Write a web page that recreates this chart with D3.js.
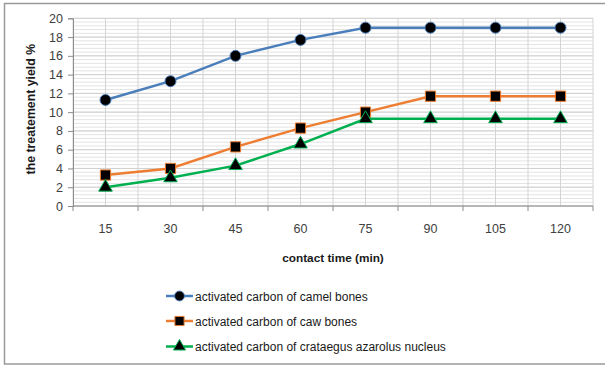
<!DOCTYPE html>
<html>
<head>
<meta charset="utf-8">
<script src="https://cdn.jsdelivr.net/npm/d3@7"></script>
<style>
  html, body { margin: 0; padding: 0; background: #fff; }
  svg { display: block; }
  text { font-family: "Liberation Sans Narrow", "Arial Narrow", "Liberation Sans", sans-serif; }
</style>
</head>
<body>
<svg id="chart" width="605" height="367"></svg>
<script>
// Contact time (min) on the category axis
const times = [15, 30, 45, 60, 75, 90, 105, 120];

// Treatment yield (%) for each adsorbent
const camelBones = [11.3, 13.3, 16.0, 17.7, 19.0, 19.0, 19.0, 19.0];
const cawBones = [3.3, 4.0, 6.3, 8.3, 10.0, 11.7, 11.7, 11.7];
const crataegus = [2.0, 3.0, 4.3, 6.6, 9.3, 9.3, 9.3, 9.3];

const seriesNames = [
  "activated carbon of camel bones",
  "activated carbon of caw bones",
  "activated carbon of crataegus azarolus nucleus"
];
const seriesColors = ["#4a7ebb", "#ed7d31", "#00b050"];
const seriesShapes = [d3.symbolCircle, d3.symbolSquare, d3.symbolTriangle];
const seriesSizes = [95, 105, 80];

const yTicks = [0, 2, 4, 6, 8, 10, 12, 14, 16, 18, 20];

const series = [camelBones, cawBones, crataegus].map((vals, i) => ({
  name: seriesNames[i], color: seriesColors[i], shape: seriesShapes[i], size: seriesSizes[i],
  points: vals.map((v, j) => ({ t: times[j], v }))
}));

const svg = d3.select("#chart");
const plot = { left: 73, right: 593, top: 18.3, bottom: 206 };

// Outer frame
svg.append("rect")
  .attr("x", 4.5).attr("y", 3.5).attr("width", 604).attr("height", 360.5)
  .attr("fill", "#fff").attr("stroke", "#9a9a9a").attr("stroke-width", 1.5);

const x = d3.scaleBand().domain(times).range([plot.left, plot.right]);
const y = d3.scaleLinear().domain([0, 20]).range([plot.bottom, plot.top]);

const grid = svg.append("g");
// Minor horizontal gridlines
grid.selectAll("line.hmin")
  .data(d3.range(0, 20.001, 0.4))
  .join("line")
  .attr("x1", plot.left).attr("x2", plot.right)
  .attr("y1", d => y(d)).attr("y2", d => y(d))
  .attr("stroke", "#e3e3e3").attr("stroke-width", 1);
// Major horizontal gridlines
grid.selectAll("line.hmaj")
  .data(yTicks)
  .join("line")
  .attr("x1", plot.left).attr("x2", plot.right)
  .attr("y1", d => y(d)).attr("y2", d => y(d))
  .attr("stroke", "#d0d0d0").attr("stroke-width", 1);
// Vertical gridlines at category boundaries and centres
const vLines = times.map(t => x(t)).concat([plot.right]).concat(times.map(t => x(t) + x.bandwidth() / 2));
grid.selectAll("line.v")
  .data(vLines)
  .join("line")
  .attr("x1", d => d).attr("x2", d => d)
  .attr("y1", plot.top).attr("y2", plot.bottom)
  .attr("stroke", "#d4d4d4").attr("stroke-width", 1);

// Y axis
const yAxis = svg.append("g")
  .attr("transform", `translate(${plot.left},0)`)
  .call(d3.axisLeft(y).tickValues(yTicks).tickSize(5).tickPadding(5));
yAxis.select(".domain").attr("stroke", "#8c8c8c");
yAxis.selectAll(".tick line").attr("stroke", "#8c8c8c");
yAxis.selectAll(".tick text").attr("fill", "#404040").attr("font-size", 12.5)
  .style("font-family", "'Liberation Sans Narrow', 'Liberation Sans', sans-serif");

// X axis: ticks between categories
const xAxisG = svg.append("g").attr("transform", `translate(0,${plot.bottom})`);
xAxisG.append("line").attr("x1", plot.left).attr("x2", plot.right)
  .attr("stroke", "#8c8c8c");
xAxisG.selectAll("line.tk")
  .data(times.map(t => x(t)).concat([plot.right]))
  .join("line")
  .attr("x1", d => d).attr("x2", d => d).attr("y1", 0).attr("y2", 5)
  .attr("stroke", "#8c8c8c");
xAxisG.selectAll("text")
  .data(times)
  .join("text")
  .attr("x", d => x(d) + x.bandwidth() / 2)
  .attr("y", 27)
  .attr("text-anchor", "middle")
  .attr("fill", "#404040").attr("font-size", 12.5)
  .text(d => d);

// Axis titles
svg.append("text")
  .attr("x", (plot.left + plot.right) / 2).attr("y", 262)
  .attr("text-anchor", "middle").attr("font-weight", "bold").attr("font-size", 11.8)
  .attr("fill", "#1a1a1a")
  .text("contact time (min)");
svg.append("text")
  .attr("transform", `translate(35,${(plot.top + plot.bottom) / 2 - 3}) rotate(-90)`)
  .attr("text-anchor", "middle").attr("font-weight", "bold").attr("font-size", 12.3)
  .attr("fill", "#1a1a1a")
  .text("the treatement yield %");

// Series lines and markers
const line = d3.line().x(d => x(d.t) + x.bandwidth() / 2).y(d => y(d.v));
series.forEach(s => {
  svg.append("path").datum(s.points)
    .attr("d", line).attr("fill", "none")
    .attr("stroke", s.color).attr("stroke-width", 2.5);
});
series.forEach(s => {
  svg.append("g").selectAll("path")
    .data(s.points)
    .join("path")
    .attr("transform", d => `translate(${x(d.t) + x.bandwidth() / 2},${y(d.v)})`)
    .attr("d", d3.symbol().type(s.shape).size(s.size))
    .attr("fill", "#000").attr("stroke", s.color).attr("stroke-width", 1);
});

// Legend
const legend = svg.append("g");
const legendY = [296, 321, 346.5];
series.forEach((s, i) => {
  const g = legend.append("g").attr("transform", `translate(166,${legendY[i]})`);
  g.append("line").attr("x1", 0).attr("x2", 27).attr("y1", 0).attr("y2", 0)
    .attr("stroke", s.color).attr("stroke-width", 2.5);
  g.append("path").attr("transform", "translate(13.5,0)")
    .attr("d", d3.symbol().type(s.shape).size(s.size * 0.8))
    .attr("fill", "#000").attr("stroke", s.color).attr("stroke-width", 1);
  g.append("text").attr("x", 29).attr("y", 4.5)
    .attr("font-size", 12).attr("fill", "#1a1a1a")
    .text(s.name);
});
</script>
</body>
</html>
